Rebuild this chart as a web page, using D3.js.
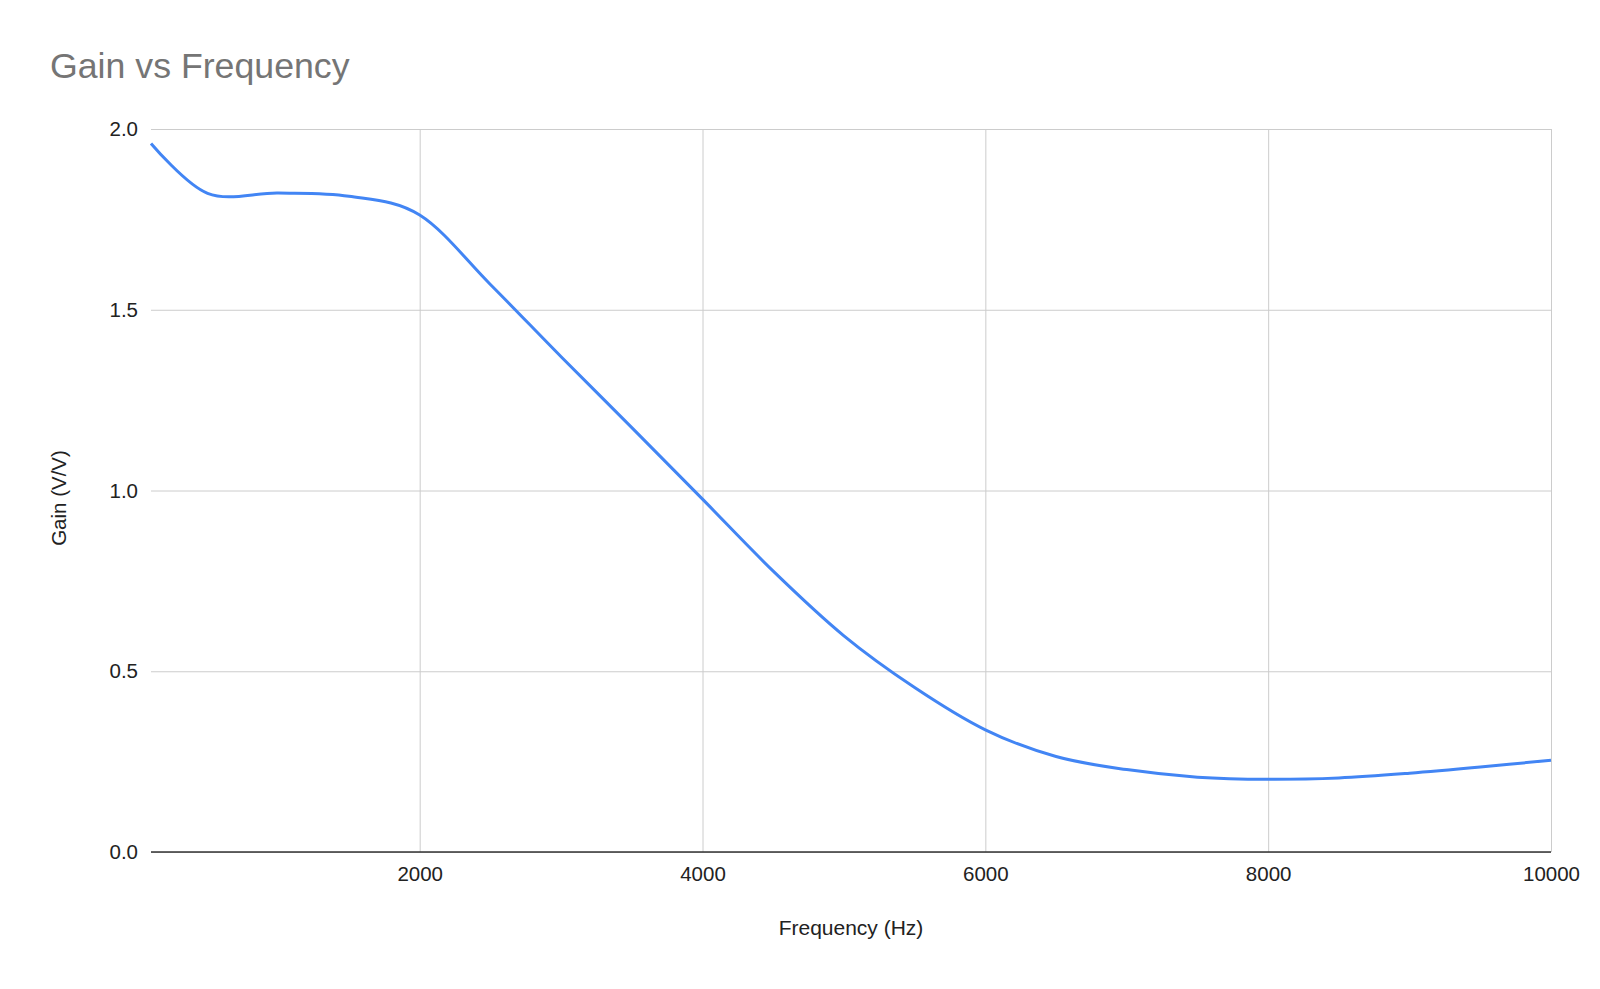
<!DOCTYPE html>
<html>
<head>
<meta charset="utf-8">
<script src="https://cdn.jsdelivr.net/npm/d3@7"></script>
<style>
    body { margin: 0; background: #fff; }
    text { font-family: "Liberation Sans", Arial, sans-serif; }
</style>
</head>
<body>
<script>
// data
const frequency = [100, 500, 1000, 1500, 2000, 2500, 3000, 3500, 4000, 4500, 5000,
    5500, 6000, 6500, 7000, 7500, 8000, 8500, 9000, 9500, 10000];
const gain = [1.960, 1.822, 1.823, 1.814, 1.762, 1.570, 1.370, 1.174, 0.976, 0.777, 0.598,
    0.455, 0.338, 0.264, 0.228, 0.207, 0.201, 0.205, 0.218, 0.235, 0.254];
const xTicks = [2000, 4000, 6000, 8000, 10000];
const yTicks = [0, 0.5, 1.0, 1.5, 2.0];

const w = 1600, h = 989;
// plot area edges
const plotL = 151, plotR = 1551, plotT = 129, plotB = 852;

const svg = d3.select('body')
    .append('svg')
    .attr('width', w)
    .attr('height', h)
    .style('background-color', '#fff');

const x = d3.scaleLinear().domain([100, 10000]).range([plotL, plotR]);
const y = d3.scaleLinear().domain([0, 2]).range([plotB, plotT]);

// title
svg.append('text')
    .attr('x', 50)
    .attr('y', 78)
    .attr('font-size', 35.7)
    .attr('fill', '#757575')
    .text('Gain vs Frequency');

// horizontal gridlines + y labels
const yAxis = d3.axisLeft(y)
    .tickValues(yTicks)
    .tickFormat(d3.format('.1f'))
    .tickSize(-(plotR - plotL))
    .tickPadding(13);

svg.append('g')
    .attr('transform', `translate(${plotL},0)`)
    .call(yAxis)
    .call(g => g.select('.domain').remove())
    .call(g => g.selectAll('line').attr('stroke', '#cccccc'))
    .call(g => g.selectAll('text')
        .attr('font-size', 20.5)
        .attr('fill', '#222')
        .attr('font-family', '"Liberation Sans", Arial, sans-serif'));

// vertical gridlines + x labels
const xAxis = d3.axisBottom(x)
    .tickValues(xTicks)
    .tickFormat(d3.format('d'))
    .tickSize(-(plotB - plotT))
    .tickPadding(14);

svg.append('g')
    .attr('transform', `translate(0,${plotB})`)
    .call(xAxis)
    .call(g => g.select('.domain').remove())
    .call(g => g.selectAll('line').attr('stroke', '#cccccc'))
    .call(g => g.selectAll('text')
        .attr('font-size', 20.5)
        .attr('fill', '#222')
        .attr('font-family', '"Liberation Sans", Arial, sans-serif'));

// zero baseline
svg.append('line')
    .attr('x1', plotL)
    .attr('x2', plotR)
    .attr('y1', y(0))
    .attr('y2', y(0))
    .attr('stroke', '#333')
    .attr('stroke-width', 1.5);

// axis titles
svg.append('text')
    .attr('x', (plotL + plotR) / 2)
    .attr('y', 935)
    .attr('text-anchor', 'middle')
    .attr('font-size', 21)
    .attr('fill', '#222')
    .text('Frequency (Hz)');

svg.append('text')
    .attr('transform', 'translate(66,498) rotate(-90)')
    .attr('text-anchor', 'middle')
    .attr('font-size', 20.5)
    .attr('fill', '#222')
    .text('Gain (V/V)');

// the gain curve, smoothed like the sheet chart
const line = d3.line()
    .x((d, i) => x(frequency[i]))
    .y(d => y(d))
    .curve(d3.curveCardinal.tension(0));

svg.append('path')
    .datum(gain)
    .attr('d', line)
    .attr('fill', 'none')
    .attr('stroke', '#4285f4')
    .attr('stroke-width', 3);
</script>
</body>
</html>
